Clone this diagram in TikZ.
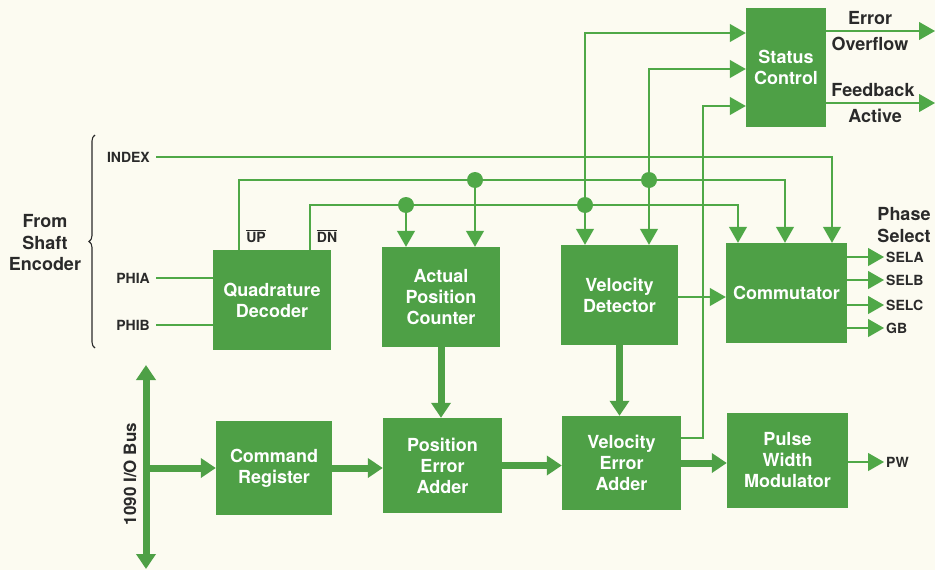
\documentclass[tikz,border=0pt]{standalone}
\usepackage{fontspec}
\setmainfont{TeX Gyre Heros}
\usetikzlibrary{arrows.meta,decorations.pathreplacing}
\definecolor{bg}{HTML}{FCFBF1}
\definecolor{boxgreen}{HTML}{4EA046}
\definecolor{linegreen}{HTML}{4FA847}
\definecolor{ink}{HTML}{2A2A2A}
\tikzset{
  blk/.style={fill=boxgreen, draw=none, text=white, font=\fontsize{18}{21}\selectfont\bfseries, align=center, inner sep=0pt},
  lbl/.style={text=ink, font=\fontsize{14}{16}\selectfont\bfseries, inner sep=2pt},
  biglbl/.style={text=ink, font=\fontsize{18}{21.5}\selectfont\bfseries, align=center, inner sep=0pt},
  sig/.style={draw=linegreen, line width=1.1pt},
  sigarr/.style={sig, -{Triangle[width=18pt,length=16pt]}},
  bus/.style={draw=boxgreen, line width=7pt, -{Triangle[width=19pt,length=15pt]}},
  dot/.style={circle, fill=linegreen, inner sep=0pt, minimum size=16pt},
}
\begin{document}
\begin{tikzpicture}[x=1pt,y=-1pt]
\fill[bg] (0,0) rectangle (935,570);
\useasboundingbox (0,0) rectangle (935,570);

% blocks
\node[blk, minimum width=80pt, minimum height=119pt] (SC) at (786,67.5) {Status\\Control};
\node[blk, minimum width=118pt, minimum height=100pt] (QD) at (272,300) {Quadrature\\Decoder};
\node[blk, minimum width=118pt, minimum height=100pt] (APC) at (441,297) {Actual\\Position\\Counter};
\node[blk, minimum width=117pt, minimum height=100pt] (VD) at (619.5,295) {Velocity\\Detector};
\node[blk, minimum width=121pt, minimum height=100pt] (COM) at (786.5,293) {Commutator};
\node[blk, minimum width=116pt, minimum height=94pt] (CR) at (274,468) {Command\\Register};
\node[blk, minimum width=119pt, minimum height=95pt] (PEA) at (442.5,465.5) {Position\\Error\\Adder};
\node[blk, minimum width=119pt, minimum height=94pt] (VEA) at (621.5,463) {Velocity\\Error\\Adder};
\node[blk, minimum width=121pt, minimum height=95pt] (PWM) at (787.5,460.5) {Pulse\\Width\\Modulator};

% left labels
\node[biglbl] (fse) at (45,243) {From\\Shaft\\Encoder};
\draw[ink, line width=1.1pt, decorate, decoration={brace, amplitude=6pt}] (95,348) -- (95,135);
\node[lbl, anchor=east] (index) at (152,157) {INDEX};
\node[lbl, anchor=east] (phia) at (152,278) {PHIA};
\node[lbl, anchor=east] (phib) at (152,325) {PHIB};
\node[lbl] (uplbl) at (256,236) {$\overline{\hbox{UP}}$};
\node[lbl] (dnlbl) at (327,236) {$\overline{\hbox{DN}}$};

% coordinates
\coordinate (upy) at (239,180);
\coordinate (dny) at (310,205);
\node[dot] (dU1) at (475,180) {};
\node[dot] (dU2) at (649,180) {};
\node[dot] (dD1) at (406,205) {};
\node[dot] (dD2) at (585,205) {};
\coordinate (s1) at (585,33);
\coordinate (s2) at (649,69);
\coordinate (s3) at (703,106);
\coordinate (v3) at (703,438);
\coordinate (ix) at (832,157);
\coordinate (vc) at (0,297);

% thin signal lines
\draw[sigarr] ([xshift=4pt]index.east) -- (ix) -- (COM.north -| ix);
\draw[sig] ([xshift=4pt]phia.east) -- (QD.west |- phia);
\draw[sig] ([xshift=4pt]phib.east) -- (QD.west |- phib);
\draw[sigarr] (QD.north -| upy) -- (upy) -- (785,180) -- (COM.north -| 785,0);
\draw[sigarr] (QD.north -| dny) -- (dny) -- (738,205) -- (COM.north -| 738,0);
\draw[sigarr] (dU1) -- (APC.north -| dU1);
\draw[sigarr] (dD1) -- (APC.north -| dD1);
\draw[sigarr] (dU2) -- (VD.north -| dU2);
\draw[sigarr] (dD2) -- (VD.north -| dD2);
\draw[sigarr] (dD2) -- (s1) -- (SC.west |- s1);
\draw[sigarr] (dU2) -- (s2) -- (SC.west |- s2);
\draw[sigarr] (VEA.east |- v3) -- (v3) -- (s3) -- (SC.west |- s3);
\draw[sigarr] (VD.east |- vc) -- (COM.west |- vc);

% status outputs
\coordinate (eo) at (935,31);
\coordinate (fa) at (935,103);
\draw[sigarr] (SC.east |- eo) -- (eo);
\draw[sigarr] (SC.east |- fa) -- (fa);
\node[biglbl] (err) at (870,18) {Error};
\node[biglbl] (ovf) at (870,44) {Overflow};
\node[biglbl] (fbk) at (873,90) {Feedback};
\node[biglbl] (act) at (875,116) {Active};

% commutator outputs
\node[biglbl] (phs) at (904,225) {Phase\\Select};
\node[lbl, anchor=west] (sela) at (884,257) {SELA};
\node[lbl, anchor=west] (selb) at (884,280) {SELB};
\node[lbl, anchor=west] (selc) at (884,305) {SELC};
\node[lbl, anchor=west] (gb) at (884,328) {GB};
\foreach \n in {sela,selb,selc,gb}
  \draw[sigarr] (COM.east |- \n) -- (\n.west);

% PW
\node[lbl, anchor=west] (pw) at (884,462) {PW};
\draw[sigarr] (PWM.east |- pw) -- (pw.west);

% bus
\coordinate (bt) at (146,365);
\coordinate (bb) at (146,569);
\draw[bus, {Triangle[width=19pt,length=15pt]}-{Triangle[width=19pt,length=15pt]}] (bt) -- (bb);
\node[biglbl, font=\fontsize{17}{20}\selectfont\bfseries, rotate=90] (buslbl) at (130,474) {1090 I/O Bus};
\draw[bus] (bt |- CR.west) -- (CR.west);

% thick data arrows
\draw[bus] (APC.south) -- (PEA.north -| APC.south);
\draw[bus] (VD.south) -- (VEA.north -| VD.south);
\draw[bus] (CR.east) -- (PEA.west |- CR.east);
\draw[bus] (PEA.east) -- (VEA.west |- PEA.east);
\draw[bus] (VEA.east) -- (PWM.west |- VEA.east);
\end{tikzpicture}
\end{document}
